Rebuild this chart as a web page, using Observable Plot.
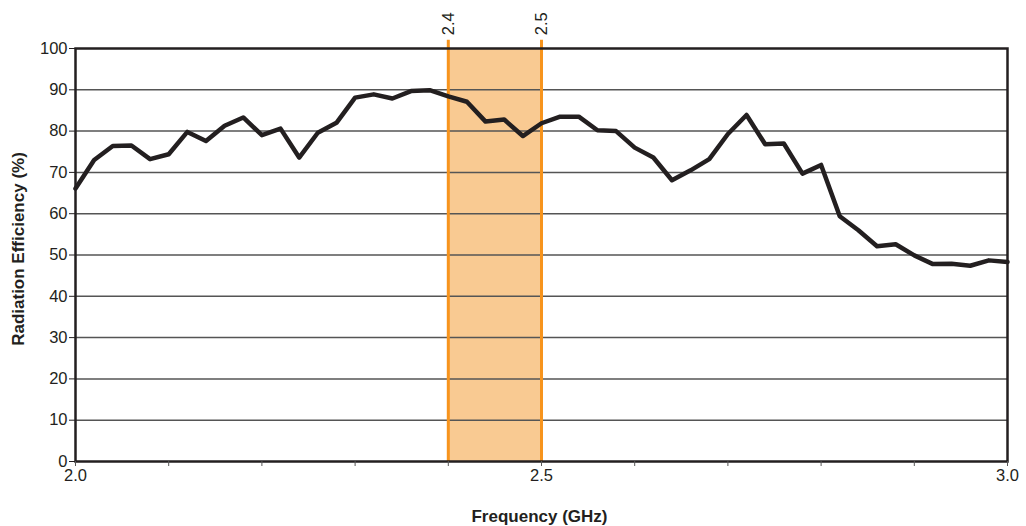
<!DOCTYPE html>
<html>
<head>
<meta charset="utf-8">
<script src="https://cdn.jsdelivr.net/npm/d3@7"></script>
<script src="https://cdn.jsdelivr.net/npm/@observablehq/plot@0.6"></script>
<style>
  html, body { margin: 0; padding: 0; background: #fff; }
  #chart svg { display: block; }
</style>
</head>
<body>
<div id="chart"></div>
<script>
const frequency = [2.00, 2.02, 2.04, 2.06, 2.08, 2.10, 2.12, 2.14, 2.16, 2.18,
  2.20, 2.22, 2.24, 2.26, 2.28, 2.30, 2.32, 2.34, 2.36, 2.38,
  2.40, 2.42, 2.44, 2.46, 2.48, 2.50, 2.52, 2.54, 2.56, 2.58,
  2.60, 2.62, 2.64, 2.66, 2.68, 2.70, 2.72, 2.74, 2.76, 2.78,
  2.80, 2.82, 2.84, 2.86, 2.88, 2.90, 2.92, 2.94, 2.96, 2.98, 3.00];
const efficiency = [66.1, 73.0, 76.4, 76.5, 73.2, 74.4, 79.8, 77.6, 81.3, 83.3,
  79.0, 80.6, 73.6, 79.6, 82.0, 88.1, 88.9, 87.9, 89.7, 89.9,
  88.4, 87.1, 82.3, 82.8, 78.8, 81.9, 83.5, 83.5, 80.2, 80.0,
  76.0, 73.6, 68.1, 70.5, 73.2, 79.3, 83.9, 76.8, 77.0, 69.7,
  71.8, 59.4, 56.0, 52.1, 52.6, 49.9, 47.8, 47.9, 47.4, 48.7, 48.3];
const yTicks = [0, 10, 20, 30, 40, 50, 60, 70, 80, 90, 100];
const xTicks = [2.0, 2.1, 2.2, 2.3, 2.4, 2.5, 2.6, 2.7, 2.8, 2.9, 3.0];
const xTickLabels = ["2.0", "", "", "", "", "2.5", "", "", "", "", "3.0"];
const bandEdges = [2.4, 2.5];
const bandLabels = ["2.4", "2.5"];
const xTitle = "Frequency (GHz)";
const yTitle = "Radiation Efficiency (%)";

const data = frequency.map((f, i) => ({f, e: efficiency[i]}));
const band = [{x1: bandEdges[0], x2: bandEdges[1]}];
const bandMarks = bandEdges.map((x, i) => ({x, label: bandLabels[i]}));
const font = "'Liberation Sans', Arial, Helvetica, sans-serif";

const chart = Plot.plot({
  width: 1026,
  height: 526,
  marginLeft: 75,
  marginRight: 19,
  marginTop: 48,
  marginBottom: 65,
  style: {fontFamily: font, fontSize: "16px", color: "#231f20", background: "#fff"},
  x: {domain: [2.0, 3.0]},
  y: {domain: [0, 100]},
  marks: [
    Plot.rect(band, {x1: "x1", x2: "x2", y1: 0, y2: 100, fill: "#f9ca92"}),
    Plot.ruleY(yTicks.slice(1, -1), {stroke: "#555", strokeWidth: 1.5}),
    Plot.ruleX(bandMarks, {x: "x", y1: 0, y2: 102, stroke: "#f7941d", strokeWidth: 3}),
    Plot.text(bandMarks, {x: "x", y: 103.2, text: "label", rotate: -90, textAnchor: "start", lineAnchor: "middle", fontSize: 16.5, fill: "#231f20"}),
    Plot.line(data, {x: "f", y: "e", stroke: "#231f20", strokeWidth: 4.5}),
    Plot.frame({stroke: "#231f20", strokeWidth: 2.5}),
    Plot.axisY({ticks: yTicks, tickSize: 6, tickPadding: 2, label: null, stroke: "#231f20", fill: "#231f20", fontSize: 16.5}),
    Plot.axisX({ticks: xTicks, tickSize: 5, tickPadding: 3, label: null, stroke: "#555", fontSize: 16.5,
      tickFormat: d => xTickLabels[Math.round((d - 2) * 10)], fill: "#231f20"}),
    Plot.text([yTitle], {text: d => d, frameAnchor: "left", textAnchor: "middle", lineAnchor: "middle", dx: -57, dy: -6, rotate: -90, fontSize: 17, fontWeight: "bold", fill: "#231f20"}),
    Plot.text([xTitle], {text: d => d, frameAnchor: "bottom", textAnchor: "middle", dx: -2, dy: 55, lineAnchor: "middle", fontSize: 17, fontWeight: "bold", fill: "#231f20"})
  ]
});
document.getElementById("chart").appendChild(chart);
</script>
</body>
</html>
